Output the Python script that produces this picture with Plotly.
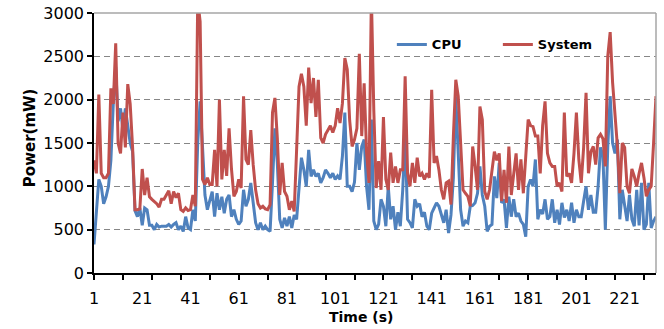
import plotly.graph_objects as go

# x categories (time in s)
time_s = list(range(1, 235))

cpu_power = [
    330, 700, 1080, 1000, 800, 880, 1000, 1300, 1960, 2380,
    1750, 1900, 1650, 1900, 1700, 1500, 1400, 720, 650, 750,
    550, 750, 730, 550, 550, 500, 560, 530, 540, 540,
    540, 560, 530, 560, 580, 500, 540, 480, 650, 520,
    500, 730, 600, 1500, 1980, 1450, 900, 730, 850, 940,
    650, 920, 730, 880, 690, 850, 900, 650, 730, 620,
    560, 600, 960, 770, 850, 1040, 810, 580, 500, 580,
    500, 540, 500, 480, 1040, 1670, 1270, 620, 520, 635,
    540, 650, 520, 670, 620, 1040, 1330, 1190, 1000, 1420,
    1115, 1190, 1115, 1150, 1040, 1100, 1190, 1150,
    1100, 1150, 1080, 1120, 1080, 1350, 1850, 1000, 1000, 940,
    1050, 1500, 1190, 1460, 1540, 1000, 730, 1770, 600, 500,
    560, 850, 770, 540, 1000, 620, 770, 500, 700, 540,
    960, 1615, 620, 580, 520, 850, 770, 800, 650, 700,
    540, 500, 690, 750, 810, 770, 670, 580, 730, 460,
    670, 1100, 2040, 1420, 730, 540, 600,
    580, 770, 780, 810, 920, 1230, 900, 770, 480, 540,
    560, 1115, 865, 1270, 810, 850, 520, 880, 650, 850,
    650, 690, 600, 560, 420, 1000, 1080, 1000, 1310, 620,
    730, 680, 850, 620, 650, 850, 580, 730, 560, 810,
    640, 730, 600, 810, 580, 730, 650,
    650, 830, 1000, 730, 900, 700, 700, 1000, 1450, 1350,
    500, 1450, 2040, 1500, 1380, 1540, 620, 960, 750, 600,
    900, 620, 540, 960, 550, 1040, 500, 560, 1040, 520,
    600, 650,
]

system_power = [
    1300, 1150, 2060, 1150, 1100, 1100, 1150, 2130, 1950, 2650,
    1500, 1380, 1850, 1450, 2180, 1950, 1450, 730, 730, 740,
    1200, 900, 1100, 880, 850, 830, 800, 760, 850, 850,
    900, 950, 800, 940, 870, 920, 730, 710, 750, 720,
    730, 900, 770, 3150, 2900, 1080, 1020, 1100, 1020, 1020,
    1420, 1000, 2000, 1080, 1420, 1120, 1670, 1200, 885, 940,
    1080, 980, 2040, 1310, 1250, 1650, 1250, 960, 800, 750,
    770, 740, 730, 790, 1850, 2020, 1560, 900, 1270, 940,
    885, 730, 830, 710, 1420, 2150, 2300, 2150, 1700, 2370,
    1960, 2250, 1800, 2230, 1560, 1500, 1600, 1650,
    1700, 1620, 1700, 1900, 1730, 1960, 2480, 2350, 1760, 1460,
    1540, 1670, 2530, 1580, 2190, 1400, 1040, 3200, 1880, 980,
    1290, 960, 1800, 1080, 960, 1390, 1040, 1230, 1040, 1190,
    1190, 2270, 1150, 1000, 1270, 1040, 1330, 1115, 1150, 1080,
    1150, 1100, 2115, 1270, 1350, 1190, 960, 850, 1040, 1060,
    790, 1580, 2230, 2040, 1420, 960, 920,
    885, 770, 1460, 1230, 960, 1920, 1770, 940, 850, 960,
    1200, 1400, 1300, 1380, 830, 1190, 810, 1460, 900, 1115,
    1380, 960, 1310, 920, 1350, 1770, 1700, 1690, 1580, 1580,
    1150, 1700, 1980, 1380, 1270, 1230, 1230, 1000, 1040, 940,
    1850, 1115, 1150, 1040, 1380, 1850, 1310,
    1040, 1450, 2080, 1150, 1400, 1460, 1250, 1560, 1600, 1550,
    1230, 2500, 2780, 2200, 1850, 1460, 920, 1500, 1450, 1000,
    920, 1200, 1115, 1000, 1150, 1270, 1100, 885, 960, 1000,
    1500, 2040,
]

x_label_vals = [1, 21, 41, 61, 81, 101, 121, 141, 161, 181, 201, 221]
x_tick_marks = list(range(1, 235, 12))
y_tick_vals = [0, 500, 1000, 1500, 2000, 2500, 3000]

FONT = "DejaVu Sans"

fig = go.Figure()
fig.add_trace(go.Scatter(x=time_s, y=cpu_power, mode="lines", name="CPU",
                         line=dict(color="#4F81BD", width=3)))
fig.add_trace(go.Scatter(x=time_s, y=system_power, mode="lines", name="System",
                         line=dict(color="#C0504D", width=3)))

fig.update_layout(
    width=664, height=329,
    margin=dict(l=94, r=8, t=13, b=56, autoexpand=False),
    paper_bgcolor="white", plot_bgcolor="white",
    showlegend=True,
    legend=dict(orientation="h", x=0.53, y=0.879, xanchor="left", yanchor="middle",
                font=dict(family=FONT, size=13, color="black", weight="bold"),
                bgcolor="rgba(0,0,0,0)", entrywidth=61, entrywidthmode="pixels",
                tracegroupgap=0, itemwidth=30),
    xaxis=dict(range=[1, 234], tickmode="array", tickvals=x_label_vals,
               ticktext=[str(v) for v in x_label_vals], ticks="",
               showgrid=False, zeroline=False, showline=True,
               linecolor="black", linewidth=1.5,
               tickfont=dict(family=FONT, size=16, color="black"),
               ticklabelstandoff=10,
               minor=dict(tickmode="array", tickvals=x_tick_marks, ticks="outside",
                          ticklen=5, tickcolor="black", tickwidth=1.5, showgrid=False)),
    yaxis=dict(range=[0, 3000], tickmode="array", tickvals=y_tick_vals,
               ticks="outside", ticklen=5, tickcolor="black", tickwidth=1.5,
               showgrid=True, gridcolor="#868686", griddash="6px,4px", gridwidth=1,
               zeroline=False, showline=True, linecolor="black", linewidth=1.5,
               tickfont=dict(family=FONT, size=16, color="black")),
    shapes=[
        dict(type="line", xref="paper", yref="paper", x0=0, x1=1, y0=1, y1=1,
             line=dict(color="#A6A6A6", width=1.5), layer="above"),
        dict(type="line", xref="paper", yref="paper", x0=1, x1=1, y0=0, y1=1,
             line=dict(color="#A6A6A6", width=1.5), layer="above"),
    ],
    annotations=[
        dict(text="Time (s)", xref="paper", yref="paper", x=0.4756, y=-0.168,
             xanchor="center", yanchor="middle", showarrow=False,
             font=dict(family=FONT, size=14, color="black", weight="bold")),
        dict(text="Power(mW)", xref="paper", yref="paper", x=-0.115, y=0.52,
             xanchor="center", yanchor="middle", showarrow=False, textangle=-90,
             font=dict(family=FONT, size=15, color="black", weight="bold")),
    ],
)

fig.write_html("out.html")
